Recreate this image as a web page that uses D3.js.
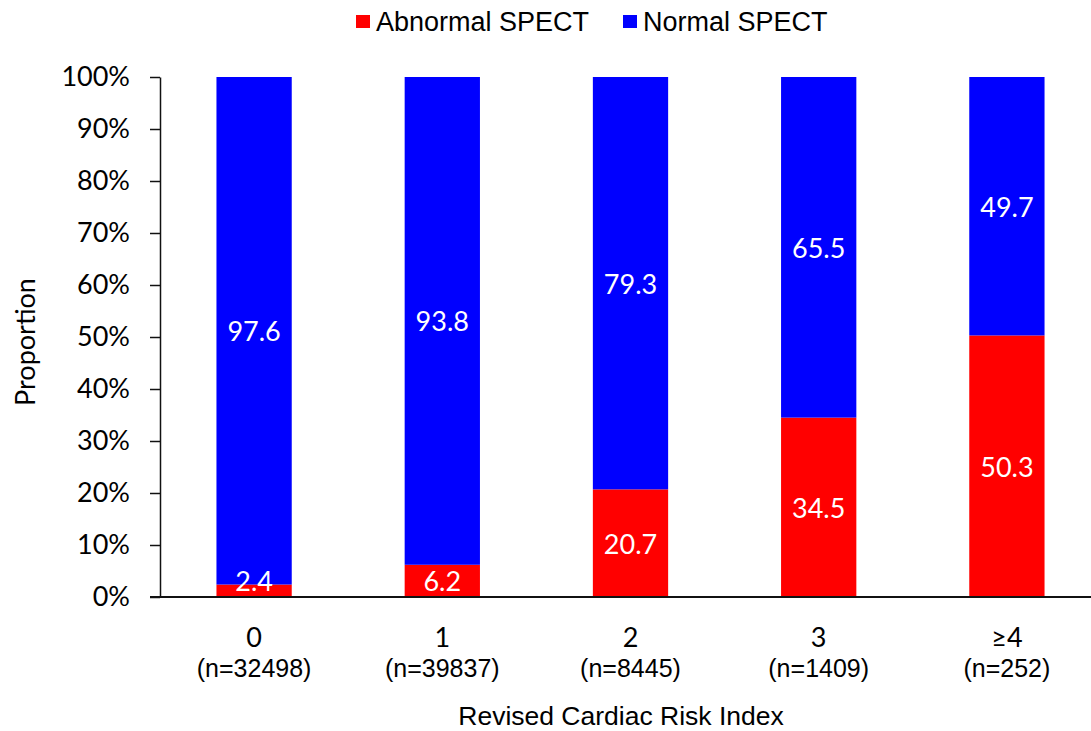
<!DOCTYPE html>
<html>
<head>
<meta charset="utf-8">
<script src="https://cdn.jsdelivr.net/npm/d3@7"></script>
<style>
  html, body { margin: 0; padding: 0; background: #fff; }
  #root { width: 1091px; height: 731px; }
  text { font-family: 'Liberation Sans', Arial, sans-serif; }
  .cal { font-family: Lato, Carlito, sans-serif; }
</style>
</head>
<body>
<div id="root"></div>
<script>
'use strict';

var categories = ['0', '1', '2', '3', '≥4'];
var counts = ['(n=32498)', '(n=39837)', '(n=8445)', '(n=1409)', '(n=252)'];
var abnormal = [2.4, 6.2, 20.7, 34.5, 50.3];
var normal = [97.6, 93.8, 79.3, 65.5, 49.7];
var seriesNames = ['Abnormal SPECT', 'Normal SPECT'];
var colors = ['#ff0000', '#0000ff'];
var yTicks = [0, 10, 20, 30, 40, 50, 60, 70, 80, 90, 100];

var width = 1091;
var height = 731;

var svg = d3.select('#root')
  .append('svg')
  .attr('width', width)
  .attr('height', height);

var x = d3.scaleBand()
  .domain(categories)
  .range([160, 1101])
  .paddingInner(0.6)
  .paddingOuter(0.3);

var y = d3.scaleLinear()
  .domain([0, 100])
  .range([597, 77]);

var rows = categories.map(function(c, i) {
  return { cat: c, abnormal: abnormal[i], normal: normal[i] };
});
var stack = d3.stack().keys(['abnormal', 'normal'])(rows);

// bars
stack.forEach(function(layer, k) {
  svg.append('g')
    .selectAll('rect')
    .data(layer)
    .enter()
    .append('rect')
    .attr('x', d => x(d.data.cat))
    .attr('width', x.bandwidth())
    .attr('y', d => y(d[1]))
    .attr('height', d => y(d[0]) - y(d[1]))
    .attr('fill', colors[k]);
});

// data labels
stack.forEach(function(layer) {
  svg.append('g')
    .selectAll('text')
    .data(layer)
    .enter()
    .append('text')
    .attr('class', 'cal')
    .attr('x', d => x(d.data.cat) + x.bandwidth() / 2)
    .attr('y', d => Math.min((y(d[0]) + y(d[1])) / 2, y(0) - 17))
    .attr('text-anchor', 'middle')
    .attr('dominant-baseline', 'central')
    .style('font-size', '27px')
    .attr('fill', '#fff')
    .text(d => (d[1] - d[0]).toFixed(1));
});

// y axis
var yAxis = svg.append('g')
  .attr('transform', 'translate(160,0)')
  .call(d3.axisLeft(y).tickValues(yTicks).tickSize(10).tickSizeOuter(0).tickFormat(d => d + '%'));
yAxis.select('.domain').attr('stroke', '#111').attr('stroke-width', 1.5);
yAxis.selectAll('.tick line').attr('stroke', '#111').attr('stroke-width', 1.5);
yAxis.selectAll('.tick text')
  .attr('class', 'cal')
  .attr('x', -30)
  .style('font-size', '27px')
  .attr('fill', '#000');

// x axis line
svg.append('line')
  .attr('x1', 150)
  .attr('x2', width)
  .attr('y1', y(0))
  .attr('y2', y(0))
  .attr('stroke', '#111')
  .attr('stroke-width', 2);

// category labels
svg.append('g')
  .selectAll('text')
  .data(categories)
  .enter()
  .append('text')
  .attr('class', 'cal')
  .attr('x', d => x(d) + x.bandwidth() / 2)
  .attr('y', 647)
  .attr('text-anchor', 'middle')
  .style('font-size', '27px')
  .text(d => d);

svg.append('g')
  .selectAll('text')
  .data(counts)
  .enter()
  .append('text')
  .attr('x', (d, i) => x(categories[i]) + x.bandwidth() / 2)
  .attr('y', 677)
  .attr('text-anchor', 'middle')
  .style('font-size', '25px')
  .text(d => d);

// axis titles
svg.append('text')
  .attr('x', 621)
  .attr('y', 725)
  .attr('text-anchor', 'middle')
  .style('font-size', '26.5px')
  .text('Revised Cardiac Risk Index');

svg.append('text')
  .attr('class', 'cal')
  .attr('transform', 'translate(35,342) rotate(-90)')
  .attr('text-anchor', 'middle')
  .style('font-size', '27px')
  .text('Proportion');

// legend
var legendX = [356, 623];
var legend = svg.append('g')
  .selectAll('g')
  .data(seriesNames)
  .enter()
  .append('g')
  .attr('transform', (d, i) => 'translate(' + legendX[i] + ',0)');
legend.append('rect')
  .attr('x', 0)
  .attr('y', 15)
  .attr('width', 14)
  .attr('height', 13)
  .attr('fill', (d, i) => colors[i]);
legend.append('text')
  .attr('x', 20)
  .attr('y', 31)
  .style('font-size', '27px')
  .text(d => d);
</script>
</body>
</html>
